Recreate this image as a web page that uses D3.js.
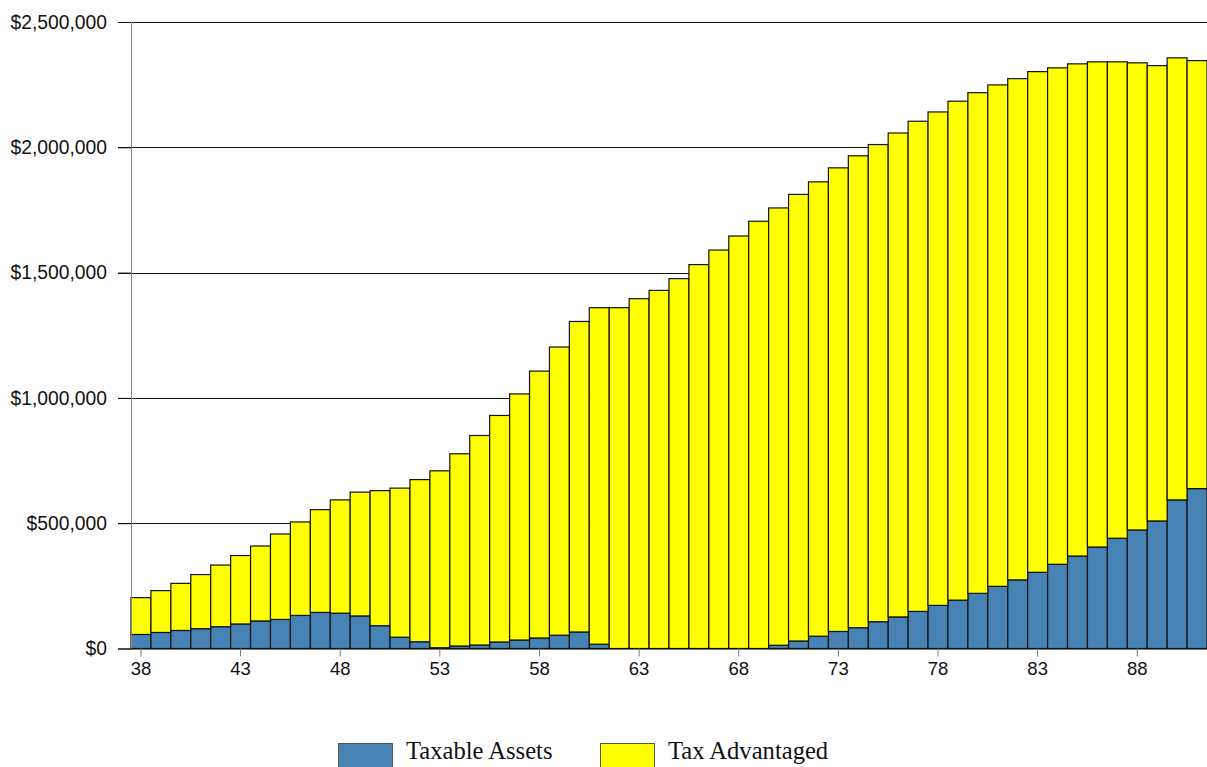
<!DOCTYPE html>
<html>
<head>
<meta charset="utf-8">
<script src="https://cdn.jsdelivr.net/npm/d3@7"></script>
<style>
  html, body { margin: 0; padding: 0; background: #fff; }
  svg { display: block; }
  .axis text { font-family: "Liberation Sans", Arial, sans-serif; font-size: 18.5px; fill: #111; }
  .axis.y text { font-size: 19.3px; }
  .legend text { font-family: "Liberation Serif", "Times New Roman", serif; font-size: 24.6px; fill: #111; }
</style>
</head>
<body>
<svg id="chart" width="1207" height="767"></svg>
<script>
// Ages on the x axis
const ages = [38,39,40,41,42,43,44,45,46,47,48,49,50,51,52,53,54,55,56,57,58,59,60,61,62,63,64,
  65,66,67,68,69,70,71,72,73,74,75,76,77,78,79,80,81,82,83,84,85,86,87,88,89,90,91];

// Taxable assets by age (dollars)
const taxable = [56000,64000,72000,79000,87000,98000,110000,116000,132000,144000,141000,130000,
  91000,45000,27000,3000,10000,14000,26000,34000,42000,53000,66000,17000,0,0,0,
  0,0,0,0,0,13000,30000,49000,68000,83000,107000,126000,148000,172000,193000,220000,248000,
  274000,304000,336000,369000,405000,440000,473000,509000,593000,638000];

// Tax-advantaged assets by age (dollars)
const taxAdvantaged = [147000,167000,188000,216000,246000,273000,299000,341000,373000,410000,452000,494000,
  539000,595000,647000,706000,767000,836000,904000,982000,1065000,1150000,1239000,1343000,1360000,1396000,1429000,
  1476000,1532000,1590000,1646000,1705000,1745000,1782000,1813000,1850000,1883000,1904000,1931000,1956000,
  1969000,1991000,1998000,2001000,2000000,1998000,1981000,1964000,1936000,1901000,1864000,1817000,1764000,1708000];

// Axis ticks
const yTicks = [0, 500000, 1000000, 1500000, 2000000, 2500000];
const xTickAges = [38,43,48,53,58,63,68,73,78,83,88];

const seriesNames = ["Taxable Assets", "Tax Advantaged"];
const seriesColors = ["#4682B4", "#FFFF00"];

const rows = ages.map((a, i) => ({ age: a, taxable: taxable[i], advantaged: taxAdvantaged[i] }));
const stack = d3.stack().keys(["taxable", "advantaged"])(rows);

const svg = d3.select("#chart");
const plot = { left: 131, right: 1207, top: 22, bottom: 648.5 };

const x = d3.scaleBand().domain(ages).range([plot.left, plot.right]).paddingInner(0).paddingOuter(0);
const y = d3.scaleLinear().domain([0, 2500000]).range([plot.bottom, plot.top]);

// Horizontal gridlines with left tick stubs
svg.append("g")
  .selectAll("line")
  .data(yTicks.filter(v => v > 0))
  .join("line")
  .attr("x1", 118).attr("x2", plot.right)
  .attr("y1", d => Math.round(y(d)) + 0.5).attr("y2", d => Math.round(y(d)) + 0.5)
  .attr("stroke", "#111").attr("stroke-width", 1);

// Stacked bars
svg.append("g")
  .selectAll("g")
  .data(stack)
  .join("g")
  .attr("fill", (d, i) => seriesColors[i])
  .selectAll("rect")
  .data(d => d)
  .join("rect")
  .attr("x", d => x(d.data.age))
  .attr("width", x.bandwidth())
  .attr("y", d => y(d[1]))
  .attr("height", d => Math.max(0, y(d[0]) - y(d[1])))
  .attr("stroke", "#111")
  .attr("stroke-width", 1.2);

// Y axis
const yAxis = d3.axisLeft(y)
  .tickValues(yTicks)
  .tickSize(13)
  .tickPadding(11)
  .tickFormat(d => "$" + d3.format(",")(d));
const gy = svg.append("g").attr("class", "axis y").attr("transform", `translate(${plot.left},0)`).call(yAxis);
gy.select(".domain").attr("stroke", "#888").attr("d", `M0.5,${plot.top}V${plot.bottom}`);
gy.selectAll(".tick line").attr("stroke", "#111");

// X axis
const xAxis = d3.axisBottom(x)
  .tickValues(xTickAges)
  .tickSize(8)
  .tickPadding(5)
  .tickSizeOuter(0);
const gx = svg.append("g").attr("class", "axis x").attr("transform", `translate(0,${plot.bottom})`).call(xAxis);
gx.select(".domain").attr("stroke", "#111").attr("d", `M118,0.5H${plot.right}`);
gx.selectAll(".tick line").attr("stroke", "#777");

// Legend
const legend = svg.append("g").attr("class", "legend");
const legendX = [338, 600];
seriesNames.forEach((name, i) => {
  legend.append("rect")
    .attr("x", legendX[i] + 0.5).attr("y", 743.5)
    .attr("width", 54).attr("height", 30)
    .attr("fill", seriesColors[i]).attr("stroke", "#555").attr("stroke-width", 1);
  legend.append("text")
    .attr("x", legendX[i] + 68).attr("y", 759)
    .text(name);
});
</script>
</body>
</html>
